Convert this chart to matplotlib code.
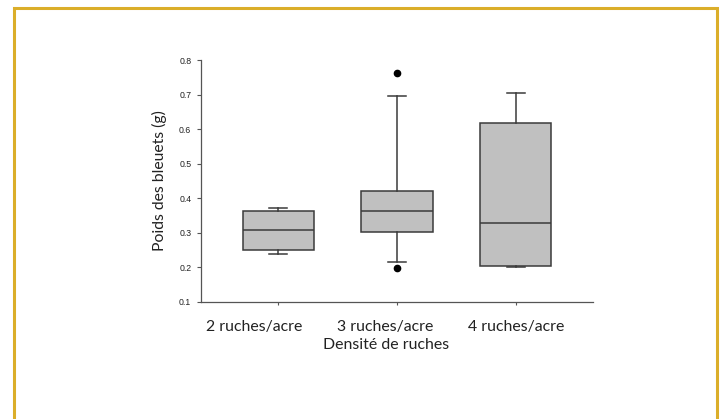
import matplotlib.pyplot as plt
from matplotlib.patches import Rectangle

# lecture approximative du graphique original
categories = ['2 ruches/acre', '3 ruches/acre', '4 ruches/acre']
q1 = [0.249, 0.301, 0.204]
medians = [0.307, 0.363, 0.328]
q3 = [0.362, 0.421, 0.618]
whisker_low = [0.237, 0.215, 0.201]
whisker_high = [0.372, 0.697, 0.704]
outliers = [[], [0.763, 0.196], []]

yticks = [0.1, 0.2, 0.3, 0.4, 0.5, 0.6, 0.7, 0.8]


def main() -> None:
    plt.rcParams['font.family'] = ['Lato', 'DejaVu Sans']

    fig = plt.figure(figsize=(7.2, 4.19), dpi=100)
    ax = fig.add_axes([0.2792, 0.2804, 0.5444, 0.5764])

    stats = []
    for i, name in enumerate(categories):
        stats.append({'label': name, 'q1': q1[i], 'med': medians[i], 'q3': q3[i],
                      'whislo': whisker_low[i], 'whishi': whisker_high[i],
                      'fliers': outliers[i]})

    edge = '#3a3a3a'
    ax.bxp(stats, positions=[1, 2, 3], widths=0.6, patch_artist=True,
           boxprops=dict(facecolor='#c0c0c0', edgecolor=edge, linewidth=1.1),
           medianprops=dict(color=edge, linewidth=1.1),
           whiskerprops=dict(color=edge, linewidth=1.1),
           capprops=dict(color=edge, linewidth=1.1),
           capwidths=0.15,
           flierprops=dict(marker='o', markerfacecolor='black', markeredgecolor='black',
                           markersize=4.5))

    ax.set_xlim(0.35, 3.65)
    ax.set_ylim(0.1, 0.8)
    ax.set_yticks(yticks)
    ax.set_yticklabels([f'{v:.1f}' for v in yticks], family='Liberation Sans',
                       fontsize=6.3, color='#222222')
    ax.tick_params(axis='y', length=3, width=0.8, color='#555555', pad=4)

    # graduations sans texte, étiquettes décalées comme dans l'original
    ax.xaxis.remove_overlapping_locs = False
    ax.set_xticks([1, 2, 3])
    ax.set_xticklabels(['', '', ''])
    ax.tick_params(axis='x', which='major', length=2.5, width=0.8, color='#555555')
    ax.set_xticks([0.80, 1.90, 3.00], minor=True)
    ax.set_xticklabels(categories, minor=True, fontsize=11.4, color='#222222')
    ax.tick_params(axis='x', which='minor', length=0, pad=13)

    ax.set_xlabel('Densité de ruches', fontsize=11.4, color='#222222', x=0.472, labelpad=3.5)
    ax.set_ylabel('Poids des bleuets (g)', fontsize=11.3, color='#222222', labelpad=9)

    for side in ['top', 'right']:
        ax.spines[side].set_visible(False)
    for side in ['left', 'bottom']:
        ax.spines[side].set_color('#555555')
        ax.spines[side].set_linewidth(0.9)

    fig.patches.append(Rectangle((13.5 / 720, -0.05), (717 - 13.5) / 720, 1.05 - 8.5 / 419,
                                 transform=fig.transFigure, fill=False,
                                 edgecolor='#dbae2a', linewidth=2.2))

    fig.savefig('out.png', dpi=100)


if __name__ == '__main__':
    main()
